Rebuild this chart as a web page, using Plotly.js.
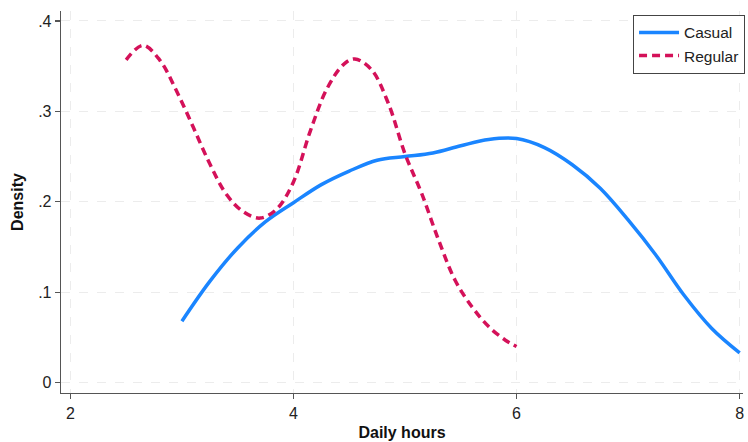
<!DOCTYPE html>
<html>
<head>
<meta charset="utf-8">
<script src="https://cdn.plot.ly/plotly-3.0.1.min.js"></script>
<style>html,body{margin:0;padding:0;background:#fff}#chart{width:748px;height:442px}</style>
</head>
<body>
<div id="chart"></div>
<script>
const casualX = [3.0, 3.25, 3.5, 3.75, 4.0, 4.25, 4.5, 4.75, 5.0, 5.25, 5.5, 5.75, 6.0, 6.25, 6.5, 6.75, 7.0, 7.25, 7.5, 7.75, 8.0];
const casualY = [0.068, 0.112, 0.149, 0.178, 0.199, 0.219, 0.234, 0.246, 0.250, 0.254, 0.262, 0.269, 0.270, 0.260, 0.241, 0.215, 0.180, 0.141, 0.097, 0.060, 0.033];
const regularX = [2.5, 2.65, 2.8, 2.95, 3.1, 3.25, 3.4, 3.55, 3.7, 3.85, 4.0, 4.15, 4.3, 4.45, 4.55, 4.7, 4.85, 5.0, 5.15, 5.3, 5.45, 5.6, 5.75, 5.9, 6.0];
const regularY = [0.357, 0.373, 0.357, 0.323, 0.283, 0.242, 0.208, 0.189, 0.182, 0.192, 0.222, 0.278, 0.325, 0.352, 0.358, 0.346, 0.309, 0.253, 0.209, 0.158, 0.113, 0.084, 0.062, 0.047, 0.040];
const xTicks = [2, 4, 6, 8];
const yTickVals = [0, 0.1, 0.2, 0.3, 0.4];
const yTickText = ["0", ".1", ".2", ".3", ".4"];

const traces = [
  {x: casualX, y: casualY, type: 'scatter', mode: 'lines', name: 'Casual',
   line: {color: '#1a85ff', width: 3.5, shape: 'spline', smoothing: 1}},
  {x: regularX, y: regularY, type: 'scatter', mode: 'lines', name: 'Regular',
   line: {color: '#d41159', width: 3.5, shape: 'spline', smoothing: 1, dash: '8px,5px'}}
];

const axisCommon = {
  showline: true, linecolor: '#555', linewidth: 1.3,
  ticks: 'outside', ticklen: 5, tickcolor: '#555', tickwidth: 1.3,
  showgrid: true, gridcolor: '#ececec', gridwidth: 1, griddash: 'dash',
  zeroline: false, mirror: false,
  tickfont: {family: 'Liberation Sans, Arial, sans-serif', size: 16, color: '#222'}
};

const layout = {
  width: 748, height: 442,
  margin: {l: 61, r: 3, t: 11, b: 49},
  paper_bgcolor: '#fff', plot_bgcolor: '#fff',
  font: {family: 'Liberation Sans, Arial, sans-serif', size: 16, color: '#222'},
  xaxis: Object.assign({}, axisCommon, {
    range: [1.916, 8.03], tickmode: 'array', tickvals: xTicks,
    title: {text: '<b>Daily hours</b>', font: {size: 16, color: '#111'}, standoff: 6}
  }),
  yaxis: Object.assign({}, axisCommon, {
    range: [-0.0114, 0.411], tickmode: 'array', tickvals: yTickVals, ticktext: yTickText,
    title: {text: '<b>Density</b>', font: {size: 16, color: '#111'}, standoff: 10}
  }),
  showlegend: true,
  legend: {x: 1.003, y: 0.99, xanchor: 'right', yanchor: 'top',
    bgcolor: '#fff', bordercolor: '#444', borderwidth: 1, itemwidth: 40,
    font: {size: 15.5, color: '#222'}, tracegroupgap: 0}
};

Plotly.newPlot('chart', traces, layout, {displayModeBar: false, staticPlot: true});
</script>
</body>
</html>
